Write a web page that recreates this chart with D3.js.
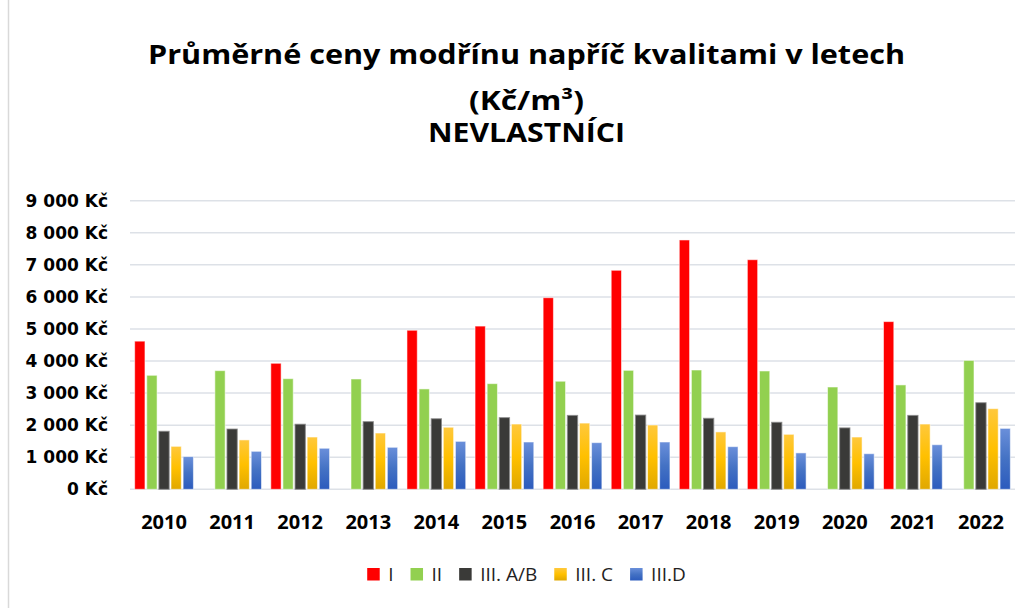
<!DOCTYPE html>
<html>
<head>
<meta charset="utf-8">
<script src="https://cdn.jsdelivr.net/npm/d3@7"></script>
<style>
  body { margin: 0; background: #fff; }
  svg { display: block; }
</style>
</head>
<body>
<div id="chart"></div>
<script>
// years on the x axis
const years = ["2010", "2011", "2012", "2013", "2014", "2015", "2016", "2017", "2018", "2019", "2020", "2021", "2022"];

// quality classes (legend order)
const series = ["I", "II", "III. A/B", "III. C", "III.D"];

// average price Kč/m3 (null = no bar)
const valuesI    = [4620, null, 3930, null, 4960, 5090, 5975, 6830, 7775, 7160, null, 5230, null];
const valuesII   = [3555, 3700, 3450, 3440, 3130, 3295, 3370, 3710, 3720, 3690, 3190, 3255, 4020];
const valuesIIIAB = [1810, 1880, 2030, 2110, 2200, 2235, 2305, 2315, 2215, 2090, 1915, 2305, 2700];
const valuesIIIC = [1340, 1540, 1630, 1755, 1935, 2035, 2065, 2005, 1790, 1715, 1630, 2035, 2515];
const valuesIIID = [1020, 1185, 1280, 1310, 1495, 1475, 1455, 1475, 1330, 1135, 1110, 1390, 1900];

const yTicks = [0, 1000, 2000, 3000, 4000, 5000, 6000, 7000, 8000, 9000];

const titleLines = ["Průměrné ceny modřínu napříč kvalitami v letech", "(Kč/m³)", "NEVLASTNÍCI"];

const allValues = [valuesI, valuesII, valuesIIIAB, valuesIIIC, valuesIIID];

const width = 1032, height = 608;

const svg = d3.select("#chart").append("svg")
	.attr("width", width)
	.attr("height", height);

// gradients for the lighter series
const defs = svg.append("defs");
function vGrad(id, top, mid, bottom) {
	const g = defs.append("linearGradient").attr("id", id)
		.attr("x1", 0).attr("y1", 0).attr("x2", 0).attr("y2", 1);
	g.append("stop").attr("offset", "0%").attr("stop-color", top);
	g.append("stop").attr("offset", "50%").attr("stop-color", mid);
	g.append("stop").attr("offset", "100%").attr("stop-color", bottom);
}
vGrad("gradC", "#ffc83c", "#ffc000", "#e0a800");
vGrad("gradD", "#6a8fda", "#4472c4", "#2c5bbd");

const fills = ["#ff0000", "#92d050", "#3a3a38", "url(#gradC)", "url(#gradD)"];

// left chart border
svg.append("line")
	.attr("x1", 8.5).attr("x2", 8.5)
	.attr("y1", 0).attr("y2", height)
	.attr("stroke", "#d9d9d9").attr("stroke-width", 1.5);

// Scales
const x = d3.scaleBand()
	.domain(years)
	.range([130, 1015])
	.paddingInner(0.137)
	.paddingOuter(0.0685);

const xInner = d3.scaleBand()
	.domain(series)
	.range([0, x.bandwidth()])
	.paddingInner(0.15);

const y = d3.scaleLinear()
	.domain([0, 9000])
	.range([489.3, 200.7]);

// gridlines
svg.append("g").selectAll("line")
	.data(yTicks)
	.enter().append("line")
	.attr("x1", 130).attr("x2", 1015)
	.attr("y1", d => y(d)).attr("y2", d => y(d))
	.attr("stroke", "#dde1e7")
	.attr("stroke-width", 1.5);

// y labels
const fmt = d => d3.format(",")(d).replace(/,/g, " ") + " Kč";
svg.append("g").selectAll("text")
	.data(yTicks)
	.enter().append("text")
	.attr("x", 108)
	.attr("y", d => y(d))
	.attr("dy", "0.36em")
	.attr("text-anchor", "end")
	.style("font-family", "'DejaVu Sans', sans-serif")
	.style("font-weight", "bold")
	.style("font-size", "17px")
	.attr("fill", "#000")
	.text(fmt);

// bars
const groups = svg.append("g").selectAll("g")
	.data(years)
	.enter().append("g")
	.attr("transform", d => "translate(" + x(d) + ",0)");

groups.selectAll("rect")
	.data((yr, i) => series.map((s, j) => ({ s: s, j: j, v: allValues[j][i] })).filter(d => d.v != null))
	.enter().append("rect")
	.attr("x", d => xInner(d.s))
	.attr("width", xInner.bandwidth())
	.attr("y", d => y(d.v))
	.attr("height", d => y(0) - y(d.v))
	.attr("fill", d => fills[d.j])
	.attr("stroke", d => d.j === 2 ? "#8a8a8a" : "#ffffff")
	.attr("stroke-opacity", d => d.j === 2 ? 0.8 : 0.55)
	.attr("stroke-width", 1);

// year labels
svg.append("g").selectAll("text")
	.data(years)
	.enter().append("text")
	.attr("x", d => x(d) + x.bandwidth() / 2)
	.attr("y", 528.5)
	.attr("text-anchor", "middle")
	.style("font-family", "'Open Sans', sans-serif")
	.style("font-weight", "bold")
	.style("font-size", "20px")
	.attr("fill", "#000")
	.text(d => d);

// title
const titleWidths = [757, 115, 197];
const titleY = [64, 109.5, 142];
svg.append("g").selectAll("text")
	.data(titleLines)
	.enter().append("text")
	.attr("x", 526.5)
	.attr("y", (d, i) => titleY[i])
	.attr("text-anchor", "middle")
	.attr("textLength", (d, i) => titleWidths[i])
	.attr("lengthAdjust", "spacingAndGlyphs")
	.style("font-family", "'Open Sans', sans-serif")
	.style("font-weight", "bold")
	.style("font-size", "26px")
	.attr("fill", "#000")
	.text(d => d);

// legend
const legend = svg.append("g");
let lx = 0;
series.forEach((s, j) => {
	const item = legend.append("g").attr("transform", "translate(" + lx + ",0)");
	item.append("rect")
		.attr("x", 0).attr("y", 568)
		.attr("width", 12.5).attr("height", 12.5)
		.attr("fill", fills[j]);
	const t = item.append("text")
		.attr("x", 21)
		.attr("y", 581)
		.style("font-family", "'Open Sans', sans-serif")
		.style("font-size", "19px")
		.attr("fill", "#222")
		.text(s);
	lx += 21 + t.node().getComputedTextLength() + 17;
});
const legendW = lx - 17;
legend.attr("transform", "translate(" + (526.5 - legendW / 2) + ",0)");
</script>
</body>
</html>
